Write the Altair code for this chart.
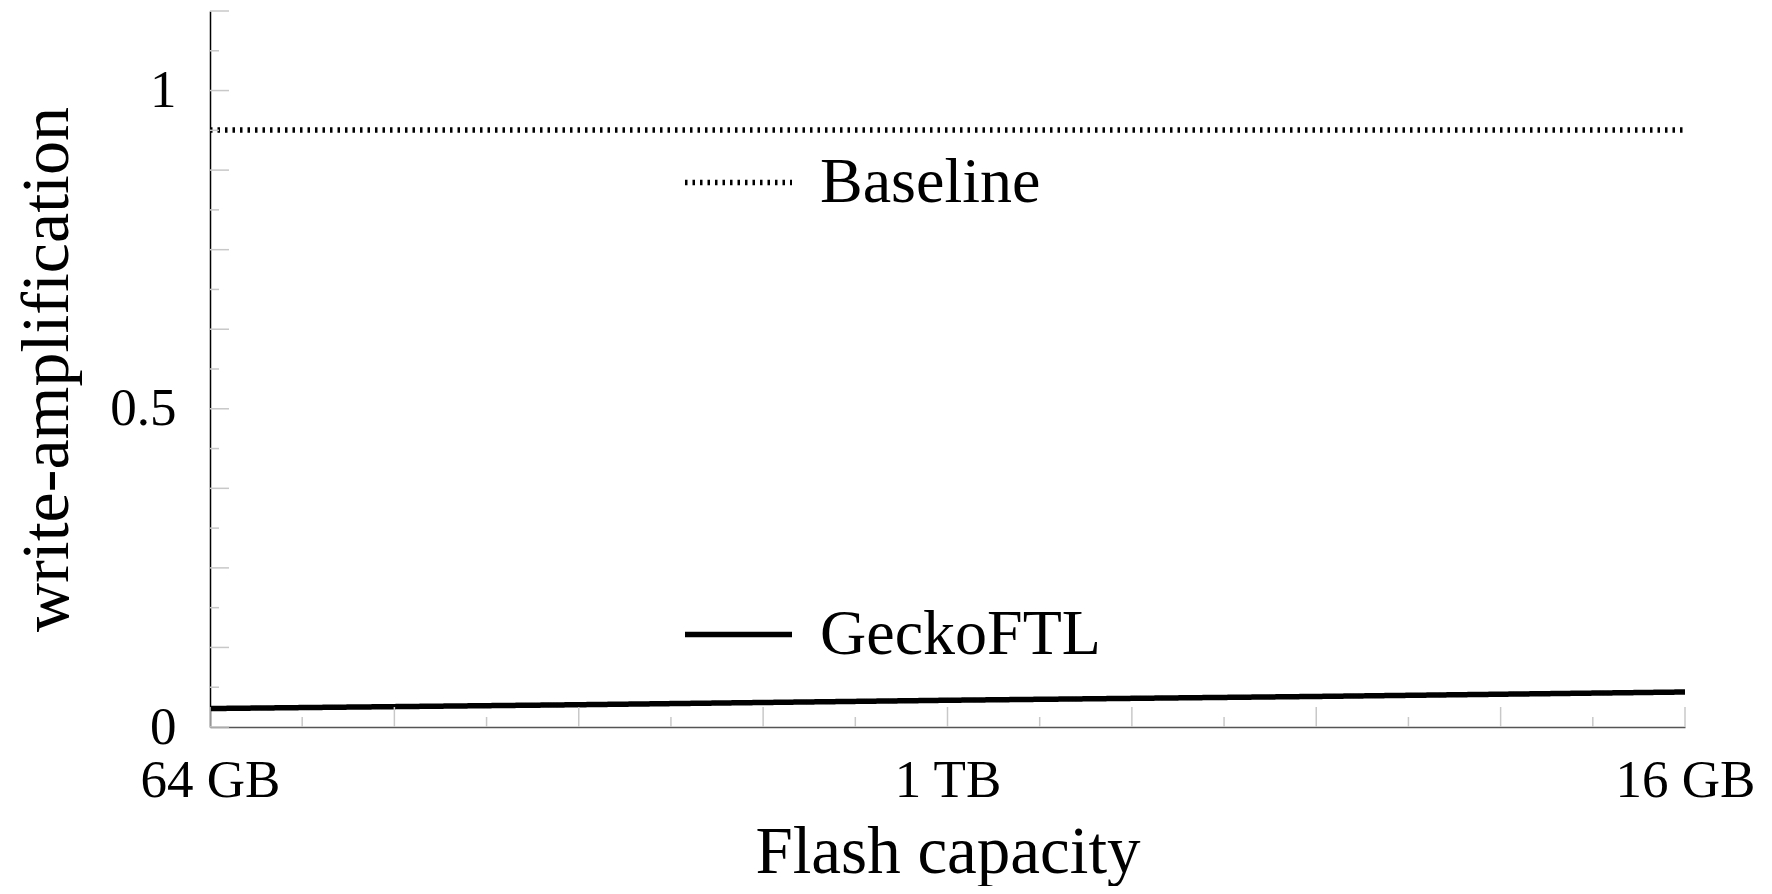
import altair as alt
import pandas as pd

# ---- data ----
series_names = ["Baseline", "GeckoFTL"]
capacity_log2_gb = [6, 8, 10, 12, 14]          # log2 of capacity in GB
gecko_wa = [0.029, 0.035, 0.042, 0.048, 0.055]
baseline_x = [6, 14]
baseline_wa = [0.938, 0.938]

x_label_vals = [6, 10, 14]
x_label_text = ["64 GB", "1 TB", "16 GB"]
y_label_vals = [0, 0.5, 1]

x_major_ticks = [6, 7, 8, 9, 10, 11, 12, 13, 14]
x_minor_ticks = [6.5, 7.5, 8.5, 9.5, 10.5, 11.5, 12.5, 13.5]
y_major_ticks = [0, 0.125, 0.25, 0.375, 0.5, 0.625, 0.75, 0.875, 1.0, 1.125]
y_minor_ticks = [0.0625, 0.1875, 0.3125, 0.4375, 0.5625, 0.6875, 0.8125, 0.9375, 1.0625]

# ---- tables ----
lines = pd.DataFrame(
    {"x": baseline_x + capacity_log2_gb,
     "y": baseline_wa + gecko_wa,
     "series": [series_names[0]] * len(baseline_x) + [series_names[1]] * len(capacity_log2_gb)}
)

W, H = 1475, 716
FONT = "Liberation Serif"
TICK_COLOR = "#c8c8c8"

label_expr = " : ".join(
    f"datum.value == {v} ? '{t}'" for v, t in zip(x_label_vals[:-1], x_label_text[:-1])
) + f" : '{x_label_text[-1]}'"

xscale = alt.Scale(domain=[6, 14], nice=False, zero=False)
yscale = alt.Scale(domain=[0, 1.125], nice=False, zero=False)

x_axis = alt.Axis(
    values=x_label_vals, labelExpr=label_expr, ticks=False, tickSize=0, grid=False,
    domainColor="#555555", domainWidth=1.5,
    labelFont=FONT, labelFontSize=53, labelColor="black", labelPadding=27,
    labelFlush=False, labelOverlap=False,
    title="Flash capacity", titleFont=FONT, titleFontSize=67, titleFontWeight="normal",
    titleColor="black", titleBaseline="alphabetic", titleX=W / 2, titleY=145,
)
y_axis = alt.Axis(
    values=y_label_vals, format="~g", ticks=False, tickSize=0, grid=False,
    domainColor="black", domainWidth=1.5,
    labelFont=FONT, labelFontSize=53, labelColor="black", labelPadding=34,
    labelFlush=False, labelOverlap=False,
    title="write-amplification", titleFont=FONT, titleFontSize=68, titleFontWeight="normal",
    titleColor="black", titleAngle=270, titleBaseline="alphabetic", titleX=-143, titleY=H / 2,
)

# inward minor / major ticks
def xticks(vals, length):
    return alt.Chart(pd.DataFrame({"x": vals})).mark_rule(color=TICK_COLOR, strokeWidth=1.5).encode(
        x=alt.X("x:Q", scale=xscale, axis=x_axis), y=alt.value(H), y2=alt.value(H - length)
    )

def yticks(vals, length):
    return alt.Chart(pd.DataFrame({"y": vals})).mark_rule(color=TICK_COLOR, strokeWidth=1.5).encode(
        y=alt.Y("y:Q", scale=yscale, axis=y_axis), x=alt.value(0), x2=alt.value(length)
    )

line_layer = alt.Chart(lines).mark_line(color="black", strokeWidth=5.5, strokeCap="butt").encode(
    x=alt.X("x:Q", scale=xscale, axis=x_axis),
    y=alt.Y("y:Q", scale=yscale, axis=y_axis),
    strokeDash=alt.StrokeDash(
        "series:N",
        scale=alt.Scale(domain=series_names, range=[[2.5, 5], [1, 0]]),
        legend=alt.Legend(
            title=None, orient="none", legendX=472, legendY=115, direction="vertical",
            symbolType="stroke", symbolSize=11449, symbolStrokeWidth=5.5, symbolStrokeColor="black",
            labelFont=FONT, labelFontSize=64, labelColor="black", labelOffset=25,
            rowPadding=363, padding=0, labelLimit=0,
        ),
    ),
)

chart = alt.layer(
    line_layer,
    xticks(x_major_ticks, 20), xticks(x_minor_ticks, 10),
    yticks(y_major_ticks, 19), yticks(y_minor_ticks, 9),
).properties(
    width=W, height=H,
    autosize=alt.AutoSizeParams(type="none"),
    padding={"left": 202, "top": 3, "right": 75, "bottom": 159},
    background="white",
).configure_view(stroke=None)

chart.save("out.html", embed_options={"renderer": "svg", "actions": False})
